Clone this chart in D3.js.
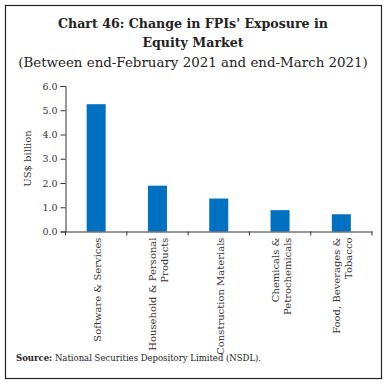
<!DOCTYPE html>
<html><head><meta charset="utf-8">
<script src="https://cdn.jsdelivr.net/npm/d3@7"></script>
<style>body{margin:0;background:#fff}svg{display:block}</style>
</head><body>
<svg id="c" width="387" height="383"></svg>
<script>
const categories = [
  ["Software & Services"],
  ["Household & Personal", "Products"],
  ["Construction Materials"],
  ["Chemicals &", "Petrochemicals"],
  ["Food, Beverages &", "Tobacco"]
];
const values = [5.25, 1.89, 1.36, 0.88, 0.71];
const yTicks = [0, 1, 2, 3, 4, 5, 6];

const svg = d3.select("#c");
const serif = "'DejaVu Serif', 'Liberation Serif', serif";
svg.append("rect").attr("x", 5.5).attr("y", 5.5).attr("width", 376).attr("height", 373)
  .attr("fill", "none").attr("stroke", "#222").attr("stroke-width", 1.2);

const title = svg.append("g").attr("font-family", serif).attr("fill", "#222").attr("text-anchor", "middle");
title.append("text").attr("x", 193).attr("y", 28).attr("font-size", 12.6).attr("font-weight", "bold")
  .text("Chart 46: Change in FPIs' Exposure in");
title.append("text").attr("x", 193).attr("y", 47).attr("font-size", 12.6).attr("font-weight", "bold")
  .text("Equity Market");
title.append("text").attr("x", 193).attr("y", 67).attr("font-size", 13.4)
  .text("(Between end-February 2021 and end-March 2021)");

const m = {left: 65.5, right: 372, top: 86, bottom: 231.5};
const x = d3.scaleBand().domain(d3.range(categories.length)).range([m.left, m.right]).padding(0);
const y = d3.scaleLinear().domain([0, 6]).range([m.bottom, m.top]);
const bw = x.bandwidth() * 0.31;

svg.append("g").selectAll("rect").data(values).join("rect")
  .attr("x", (d, i) => x(i) + x.bandwidth() / 2 - bw / 2)
  .attr("width", bw)
  .attr("y", d => y(d))
  .attr("height", d => y(0) - y(d))
  .attr("fill", "#0070C0");

const yAxis = svg.append("g").attr("transform", `translate(${m.left},0)`)
  .call(d3.axisLeft(y).tickValues(yTicks).tickFormat(d3.format(".1f")).tickSize(5).tickPadding(3));
yAxis.selectAll("text").attr("font-family", serif).attr("font-size", 9.5).attr("fill", "#333");
yAxis.selectAll("line,path").attr("stroke", "#333");

const xAxis = svg.append("g").attr("transform", `translate(0,${m.bottom})`)
  .call(d3.axisBottom(x).tickValues([]).tickSizeOuter(0));
xAxis.select("path").attr("stroke", "#333");
const tickPos = d3.range(categories.length + 1).map(i => i < categories.length ? x(i) : m.right);
xAxis.selectAll("line.t").data(tickPos).join("line").attr("class", "t")
  .attr("x1", d => d).attr("x2", d => d).attr("y1", 0).attr("y2", 4).attr("stroke", "#333");

const lab = svg.append("g").attr("font-family", serif).attr("font-size", 10).attr("fill", "#333");
categories.forEach((lines, i) => {
  const cx = x(i) + x.bandwidth() / 2;
  const n = lines.length;
  lines.forEach((t, j) => {
    const dx = cx + (j - (n - 1) / 2) * 12 + 5;
    lab.append("text").attr("text-anchor", "end")
      .attr("transform", `translate(${dx},${m.bottom + 6}) rotate(-90)`)
      .text(t);
  });
});

svg.append("text").attr("font-family", serif).attr("font-size", 10).attr("fill", "#333")
  .attr("text-anchor", "middle").attr("transform", "translate(30.5,158.5) rotate(-90)")
  .text("US$ billion");

const src = svg.append("text").attr("font-family", serif).attr("font-size", 8.5).attr("fill", "#222")
  .attr("x", 16).attr("y", 361);
src.append("tspan").attr("font-weight", "bold").text("Source:");
src.append("tspan").text(" National Securities Depository Limited (NSDL).");
</script>
</body></html>
